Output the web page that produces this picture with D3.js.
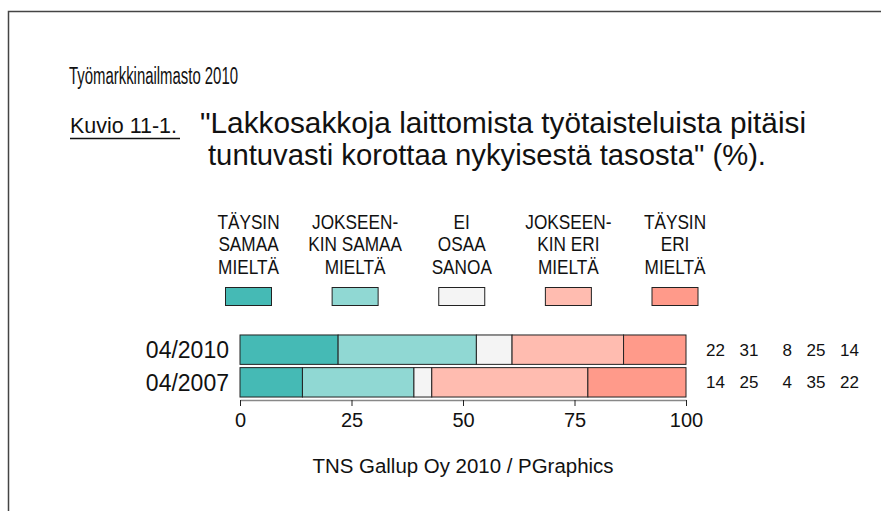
<!DOCTYPE html>
<html>
<head>
<meta charset="utf-8">
<script src="https://cdn.jsdelivr.net/npm/d3@7"></script>
<style>
  body { margin: 0; background: #fff; }
  text { font-family: "Liberation Sans", Arial, sans-serif; fill: #111; }
</style>
</head>
<body>
<svg id="mainsvg"></svg>
<script>
// data
let periods = ["04/2010", "04/2007"];
let categories = [
    ["TÄYSIN", "SAMAA", "MIELTÄ"],
    ["JOKSEEN-", "KIN SAMAA", "MIELTÄ"],
    ["EI", "OSAA", "SANOA"],
    ["JOKSEEN-", "KIN ERI", "MIELTÄ"],
    ["TÄYSIN", "ERI", "MIELTÄ"]
];
let values2010 = [22, 31, 8, 25, 14];
let values2007 = [14, 25, 4, 35, 22];
let ticks = [0, 25, 50, 75, 100];
let colors = ["#45bab5", "#90d8d3", "#f4f4f4", "#ffbcb0", "#ff9a8a"];

let mainsvg = d3.select("#mainsvg"),
    svgWidth = 881,
    svgHeight = 511;
mainsvg.attr("width", svgWidth).attr("height", svgHeight);

// frame
mainsvg.append("rect")
    .attr("x", 8.5).attr("y", 11.5)
    .attr("width", 900).attr("height", 520)
    .attr("fill", "none").attr("stroke", "#444").attr("stroke-width", 1.5);

// headings (source font is a condensed sans, so squeeze to measured widths)
mainsvg.append("text").attr("x", 69).attr("y", 84)
    .attr("font-size", 23).attr("textLength", 169).attr("lengthAdjust", "spacingAndGlyphs")
    .text("Työmarkkinailmasto 2010");
mainsvg.append("text").attr("x", 70).attr("y", 133)
    .attr("font-size", 22).attr("textLength", 107).attr("lengthAdjust", "spacingAndGlyphs")
    .text("Kuvio 11-1.");
mainsvg.append("line").attr("x1", 70).attr("x2", 180).attr("y1", 138.5).attr("y2", 138.5)
    .attr("stroke", "#111").attr("stroke-width", 1.5);
mainsvg.append("text").attr("x", 200).attr("y", 133)
    .attr("font-size", 30).attr("textLength", 606).attr("lengthAdjust", "spacingAndGlyphs")
    .text("\"Lakkosakkoja laittomista työtaisteluista pitäisi");
mainsvg.append("text").attr("x", 208).attr("y", 165)
    .attr("font-size", 30).attr("textLength", 558).attr("lengthAdjust", "spacingAndGlyphs")
    .text("tuntuvasti korottaa nykyisestä tasosta\" (%).");

// scales
let scaleX = d3.scaleLinear().domain([0, 100]).range([240, 686]);
let scaleY = d3.scaleBand().domain(periods).range([334, 398]).paddingInner(0.1).paddingOuter(0.03);
let legendX = d3.scalePoint().domain(d3.range(categories.length)).range([248.5, 675]);

// legend
let legend = mainsvg.append("g").selectAll("g").data(categories).enter().append("g")
    .attr("transform", (d, i) => `translate(${legendX(i)},0)`);
legend.each(function(lines) {
    let g = d3.select(this).append("g").attr("transform", "scale(0.82,1)");
    lines.forEach((t, j) => {
        g.append("text")
            .attr("text-anchor", "middle")
            .attr("y", 229 + j * 22.5)
            .attr("font-size", 21)
            .text(t);
    });
});
legend.append("rect")
    .attr("x", -23).attr("y", 287.5).attr("width", 46).attr("height", 18)
    .attr("fill", (d, i) => colors[i]).attr("stroke", "#222").attr("stroke-width", 1);

// bars
let rows = [values2010, values2007];
let rowG = mainsvg.append("g").selectAll("g").data(rows).enter().append("g")
    .attr("transform", (d, i) => `translate(0,${scaleY(periods[i])})`);
rowG.each(function(vals) {
    let g = d3.select(this);
    let cum = 0;
    vals.forEach((v, k) => {
        g.append("rect")
            .attr("x", scaleX(cum)).attr("y", 0)
            .attr("width", scaleX(cum + v) - scaleX(cum))
            .attr("height", scaleY.bandwidth())
            .attr("fill", colors[k]).attr("stroke", "#222").attr("stroke-width", 1);
        cum += v;
    });
    vals.forEach((v, k) => {
        g.append("text")
            .attr("x", 725 + k * 33.5).attr("y", scaleY.bandwidth() / 2)
            .attr("dy", "0.36em").attr("text-anchor", "end")
            .attr("font-size", 17).text(v);
    });
});
rowG.append("text")
    .attr("x", 229).attr("y", scaleY.bandwidth() / 2).attr("dy", "0.36em")
    .attr("text-anchor", "end").attr("font-size", 23)
    .text((d, i) => periods[i]);

// axis
let axis = mainsvg.append("g")
    .attr("transform", "translate(0,400)")
    .call(d3.axisBottom(scaleX).tickValues(ticks).tickSize(6).tickSizeOuter(0).tickPadding(7));
axis.select(".domain").attr("stroke", "#888").attr("stroke-width", 1.5);
axis.selectAll(".tick line").attr("stroke", "#222");
axis.selectAll(".tick text").attr("font-size", 20).attr("fill", "#111")
    .attr("font-family", "Liberation Sans, Arial, sans-serif");

// footer
mainsvg.append("text").attr("x", 463).attr("y", 473)
    .attr("text-anchor", "middle").attr("font-size", 20)
    .attr("textLength", 301).attr("lengthAdjust", "spacingAndGlyphs")
    .text("TNS Gallup Oy 2010 / PGraphics");
</script>
</body>
</html>
